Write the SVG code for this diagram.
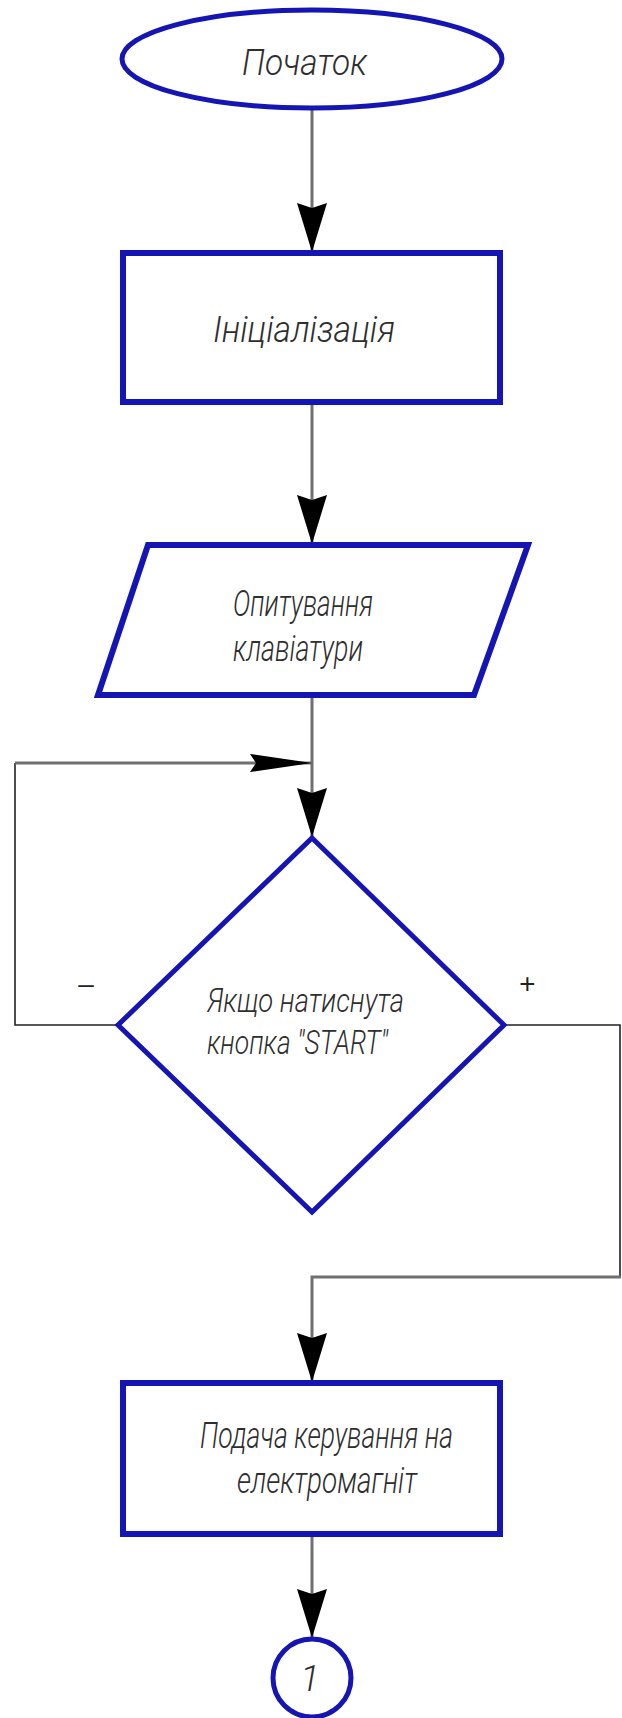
<svg xmlns="http://www.w3.org/2000/svg" width="622" height="1718" viewBox="0 0 622 1718">
<style>
.shape{fill:#ffffff;stroke:#1515b4;stroke-width:6;stroke-linejoin:miter}
.thin{stroke-width:5}
.lbl{font-family:Roboto,"Liberation Sans",Arial,sans-serif;font-style:italic;font-weight:300;font-size:36px;fill:#2e2e2e}
.sm{font-size:33px}
.sign{font-family:"Liberation Sans",Arial,sans-serif;font-size:28px;fill:#222}
.flow{fill:none;stroke:#707070;stroke-width:3}
.wire{fill:none;stroke:#222;stroke-width:1.6}
</style>
<defs>
<marker id="ahV" viewBox="0 0 49 30" refX="49" refY="15" markerWidth="49" markerHeight="30" markerUnits="userSpaceOnUse" orient="auto">
<path d="M0,0 L49,15 L0,30 L5,15 z" fill="#000"/>
</marker>
<marker id="ahH" viewBox="0 0 62 18" refX="62" refY="9" markerWidth="62" markerHeight="18" markerUnits="userSpaceOnUse" orient="auto">
<path d="M0,0 L62,9 L0,18 L6,9 z" fill="#000"/>
</marker>
</defs>
<rect width="622" height="1718" fill="#ffffff"/>
<g id="connectors">
<path class="flow" d="M312,108 V252" marker-end="url(#ahV)"/>
<path class="flow" d="M312,402 V544" marker-end="url(#ahV)"/>
<path class="flow" d="M312,696 V837" marker-end="url(#ahV)"/>
<path class="wire" d="M118,1025 H15 V763"/>
<path class="flow" d="M15,763 H312" marker-end="url(#ahH)"/>
<path class="wire" d="M504,1025 H620 V1277"/>
<path class="flow" d="M621,1277 H312 V1382" marker-end="url(#ahV)"/>
<path class="flow" d="M312,1534 V1638" marker-end="url(#ahV)"/>
<text class="sign" x="86" y="993" text-anchor="middle">–</text>
<text class="sign" x="527" y="993" text-anchor="middle" font-style="italic">+</text>
</g>
<g id="start">
<ellipse class="shape thin" cx="312" cy="59" rx="190" ry="49"/>
<text class="lbl" x="242" y="75" textLength="125" lengthAdjust="spacingAndGlyphs">Початок</text>
</g>
<g id="init">
<rect class="shape" x="123" y="253" width="377" height="149"/>
<text class="lbl" x="213" y="342" textLength="182" lengthAdjust="spacingAndGlyphs">Ініціалізація</text>
</g>
<g id="poll">
<polygon class="shape" points="148,545 528,545 474,695 98,695"/>
<text class="lbl" x="233" y="616" textLength="140" lengthAdjust="spacingAndGlyphs">Опитування</text>
<text class="lbl" x="233" y="661" textLength="130" lengthAdjust="spacingAndGlyphs">клавіатури</text>
</g>
<g id="decision">
<polygon class="shape thin" points="312,838 504,1025 312,1212 118,1025"/>
<text class="lbl sm" x="207" y="1012" textLength="197" lengthAdjust="spacingAndGlyphs">Якщо натиснута</text>
<text class="lbl sm" x="207" y="1054" textLength="181" lengthAdjust="spacingAndGlyphs">кнопка "START"</text>
</g>
<g id="magnet">
<rect class="shape" x="123" y="1383" width="377" height="151"/>
<text class="lbl" x="200" y="1448" textLength="253" lengthAdjust="spacingAndGlyphs">Подача керування на</text>
<text class="lbl" x="237" y="1493" textLength="180" lengthAdjust="spacingAndGlyphs">електромагніт</text>
</g>
<g id="connector1">
<circle class="shape thin" cx="312" cy="1678" r="39"/>
<text class="lbl" x="310" y="1691" text-anchor="middle" font-size="38">1</text>
</g>
</svg>
